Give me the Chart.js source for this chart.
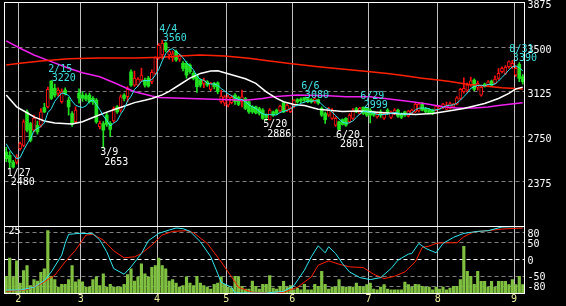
<!DOCTYPE html>
<html><head><meta charset="utf-8">
<script src="https://cdn.jsdelivr.net/npm/chart.js@4"></script>
<style>
html,body{margin:0;padding:0;background:#000;width:566px;height:306px;overflow:hidden}
#c1{position:absolute;left:0;top:0}
#c2{position:absolute;left:0;top:220px}
</style></head><body>
<canvas id="c1" width="566" height="228" style="width:566px;height:228px"></canvas>
<canvas id="c2" width="566" height="86" style="width:566px;height:86px"></canvas>
<script>
const dates = ['1/26','1/27','1/28','1/31',
'2/1','2/2','2/3','2/4','2/7','2/8','2/9','2/10','2/14','2/15','2/16','2/17','2/18','2/21','2/22','2/24','2/25','2/28',
'3/1','3/2','3/3','3/4','3/7','3/8','3/9','3/10','3/11','3/14','3/15','3/16','3/17','3/18','3/22','3/23','3/24','3/25','3/28','3/29','3/30','3/31',
'4/1','4/4','4/5','4/6','4/7','4/8','4/11','4/12','4/13','4/14','4/15','4/18','4/19','4/20','4/21','4/22','4/25','4/26','4/27','4/28',
'5/2','5/6','5/9','5/10','5/11','5/12','5/13','5/16','5/17','5/18','5/19','5/20','5/23','5/24','5/25','5/26','5/27','5/30','5/31',
'6/1','6/2','6/3','6/6','6/7','6/8','6/9','6/10','6/13','6/14','6/15','6/16','6/17','6/20','6/21','6/22','6/23','6/24','6/27','6/28','6/29','6/30',
'7/1','7/4','7/5','7/6','7/7','7/8','7/11','7/12','7/13','7/14','7/15','7/19','7/20','7/21','7/22','7/25','7/26','7/27','7/28','7/29',
'8/1','8/2','8/3','8/4','8/5','8/8','8/9','8/10','8/12','8/15','8/16','8/17','8/18','8/19','8/22','8/23','8/24','8/25','8/26','8/29','8/30','8/31',
'9/1','9/2','9/5'];

const opens = [2620,2593,2536,2536,2649,2677,2957,2860,2803,2845,2845,2994,3000,3215,3154,3112,3042,3140,3056,2944,2873,3115,3098,3095,3098,3072,3056,2831,2860,2930,2862,2881,2999,2972,3098,3084,3294,3182,3182,3224,3224,3241,3210,3280,3410,3435,3535,3435,3410,3463,3400,3365,3365,3350,3281,3266,3224,3196,3210,3146,3196,3202,3042,3030,3014,3035,3098,3080,3042,3070,3042,3000,3000,2986,2972,2930,2890,2957,2972,2966,3033,2972,2960,3014,3060,3065,3078,3070,3060,3040,3060,2988,2944,2930,2902,2845,2873,2893,2904,2873,2902,2986,2944,2995,2986,2972,2957,2915,2957,2904,2972,2910,2944,2972,2944,2957,2921,2944,2957,2966,3022,2986,2977,2972,2972,2986,2994,2978,2986,2997,3022,3070,3126,3140,3182,3224,3163,3098,3190,3182,3215,3197,3239,3294,3281,3337,3337,3267,3357,3252];
const highs = [2660,2625,2550,2600,2705,2890,2975,2870,2930,2880,2985,3030,3165,3220,3190,3160,3150,3160,3080,2960,3000,3150,3125,3110,3115,3085,3070,2880,2875,2945,2875,3000,3010,3100,3110,3170,3310,3300,3245,3325,3240,3255,3310,3420,3530,3560,3545,3480,3470,3475,3440,3380,3380,3360,3295,3275,3235,3240,3220,3205,3205,3210,3140,3095,3100,3095,3110,3090,3140,3080,3050,3010,3005,2995,2985,2940,2985,2965,2980,3015,3040,3025,3000,3060,3070,3075,3080,3075,3070,3075,3065,3000,2955,2995,2985,2915,2880,2900,2910,2940,2985,2995,2995,2999,2990,2985,2965,2955,2975,2955,2985,2965,2985,2980,2950,2965,2970,2980,3030,3030,3035,2995,2985,2980,3010,3010,3030,3040,3040,3030,3085,3155,3244,3200,3250,3235,3215,3175,3200,3220,3225,3260,3320,3335,3345,3385,3390,3340,3370,3270];
const lows = [2540,2480,2485,2520,2635,2665,2790,2705,2790,2770,2830,2950,2990,3060,3080,3090,3030,3100,2930,2835,2860,3030,3045,3050,3030,3020,2860,2815,2653,2835,2750,2870,2945,2955,3050,3040,3170,3170,3170,3210,3165,3165,3195,3270,3400,3400,3460,3400,3380,3380,3380,3300,3240,3280,3225,3120,3165,3160,3170,3135,3150,3110,3030,3010,3000,3025,3020,3010,3000,2975,2945,2945,2940,2930,2895,2886,2890,2920,2935,2955,2950,2960,2950,2990,3030,3035,3040,3035,3030,3030,3020,2920,2860,2920,2895,2835,2801,2845,2835,2865,2895,2950,2935,2935,2920,2865,2920,2905,2910,2895,2935,2900,2935,2910,2900,2920,2915,2935,2950,2955,2965,2950,2940,2935,2965,2980,2985,2975,2980,2990,3015,3060,3115,3120,3170,3135,3140,3090,3165,3175,3175,3190,3230,3285,3270,3325,3320,3255,3210,3190];
const closes = [2565,2536,2494,2578,2691,2873,2803,2719,2905,2789,2957,2957,3146,3070,3098,3140,3126,3112,3000,2855,2972,3073,3072,3065,3042,3040,2873,2860,2803,2853,2811,2986,2957,3084,3070,3146,3182,3241,3233,3267,3182,3174,3290,3410,3515,3535,3477,3463,3445,3393,3430,3323,3266,3295,3239,3168,3182,3224,3182,3197,3168,3126,3090,3084,3084,3080,3042,3020,3084,2986,2957,2957,2949,2944,2902,2910,2972,2930,2944,3005,2957,3014,2988,3056,3040,3050,3055,3045,3040,3070,3030,2930,2893,2986,2972,2904,2810,2853,2845,2930,2972,2957,2990,2944,2930,2930,2930,2944,2930,2946,2944,2957,2972,2921,2910,2930,2964,2972,3022,3022,2972,2957,2949,2944,3005,3005,3022,3005,3028,3022,3075,3146,3154,3182,3218,3146,3196,3163,3173,3210,3182,3233,3281,3323,3331,3379,3365,3323,3239,3210];
const volumes = [6.7,14.1,6.5,13,4,9,11,3,5.4,4.8,8.3,9.7,25.2,6.7,5.4,2.4,3.5,3.5,5.4,11,4.5,5.4,4.5,2.4,2.4,5.4,6.5,3,7.7,2.4,3.5,2.4,2.4,2.4,3.5,7.4,9.7,4.8,6.5,11.8,7.7,6.5,10.3,11,14.1,11,9.7,4.8,5.4,4,2.4,3,6.5,4,3,6.7,4,3,2.4,1.6,3.5,4,6.5,3.5,2.4,2,6.7,6.5,2.7,1.6,1.6,4.8,2.7,1.6,3.5,3.5,7,2,1.6,2.7,4.7,2.4,3,1.3,2,1.3,3.5,1.3,1.3,3.5,2.7,8.7,3.5,1.6,2.4,2.4,5.4,2.4,2.4,2.4,2.4,4,2.7,2.4,3.4,4,1.6,1.3,2.4,3.4,1.6,1.3,1.3,1.3,1.3,4.4,3.4,2.4,3.5,3.4,2.7,2.4,2.4,1.3,2.4,1.6,2.4,1.3,2,2.7,2.7,5.4,18.8,8.7,6.7,3.5,8.7,4.7,4.7,2.4,4.7,2.4,4.7,4.7,4.7,3.4,5.4,3.4,6.7,3.4];

const ma5 = [2690,2640,2600,2565,2573,2634,2688,2733,2798,2818,2835,2865,2951,2984,3046,3082,3116,3109,3095,3047,3013,3002,2994,3007,3045,3058,3019,2976,2924,2886,2840,2863,2882,2938,2982,3049,3088,3145,3174,3214,3221,3219,3228,3265,3314,3385,3445,3480,3487,3463,3442,3411,3371,3341,3311,3258,3230,3222,3199,3191,3191,3179,3153,3133,3110,3093,3076,3062,3062,3042,3018,2999,2987,2959,2942,2932,2935,2932,2932,2952,2962,2970,2984,3004,3011,3030,3038,3049,3046,3052,3048,3023,2993,2982,2955,2928,2898,2872,2862,2866,2882,2911,2941,2961,2961,2953,2947,2936,2933,2936,2939,2944,2953,2948,2941,2937,2939,2949,2974,2988,2990,2989,2984,2969,2975,2980,2995,3011,3013,3016,3031,3055,3085,3116,3155,3169,3179,3181,3175,3188,3185,3192,3216,3246,3276,3309,3336,3344,3327,3303];
const ma25 = [[0,3098],[3,3000],[6,2950],[8,2915],[11,2881],[14,2864],[19,2856],[22,2875],[25,2910],[28,2945],[31,2975],[34,3005],[37,3035],[40,3055],[42,3070],[45,3100],[47,3130],[50,3185],[53,3240],[56,3280],[59,3300],[61,3302],[63,3285],[66,3260],[69,3235],[72,3197],[75,3126],[78,3070],[80,3042],[83,3020],[86,3010],[90,2980],[97,2960],[102,2965],[107,2955],[112,2944],[118,2935],[123,2944],[128,2966],[132,2986],[138,3028],[142,3070],[145,3112],[147,3150],[149,3165]];
const ma75 = [[0,3351],[4,3365],[10,3385],[18,3404],[27,3410],[37,3410],[45,3416],[50,3427],[56,3435],[63,3427],[70,3407],[76,3385],[83,3359],[90,3337],[96,3320],[105,3295],[110,3280],[115,3260],[120,3240],[124,3226],[128,3212],[133,3190],[138,3175],[143,3160],[149,3150]];
const maLong = [[0,3553],[4,3491],[8,3435],[13,3379],[18,3323],[22,3286],[27,3252],[32,3191],[37,3126],[42,3090],[44,3079],[53,3070],[69,3056],[74,3070],[77,3084],[84,3098],[93,3092],[98,3084],[105,3084],[111,3064],[117,3042],[121,3025],[126,3000],[130,2990],[135,2990],[139,2998],[142,3011],[147,3028],[149,3033]];
const oscFast = [[0,-91],[4,-91],[8,-83],[11,-63],[13,-37],[16,13],[17,48],[18,75],[21,78],[25,77],[27,58],[29,23],[31,-27],[34,-44],[36,-22],[39,18],[41,56],[44,78],[47,88],[49,94],[51,92],[53,84],[56,53],[59,8],[61,-42],[62,-68],[65,-83],[66,-100],[71,-100],[75,-100],[77,-98],[80,-95],[83,-78],[86,-32],[88,8],[90,41],[92,20],[93,38],[95,18],[97,-12],[99,-37],[102,-54],[105,-60],[108,-54],[111,-27],[113,-2],[116,16],[117,18],[119,48],[121,33],[124,20],[126,48],[129,66],[132,78],[136,84],[139,86],[143,97],[147,98],[149,98]];
const oscSlow = [[0,-95],[6,-90],[10,-73],[14,-47],[17,-7],[20,28],[23,73],[25,75],[28,58],[31,26],[34,5],[37,8],[39,18],[42,43],[45,73],[48,84],[52,86],[54,80],[58,48],[62,-7],[65,-52],[67,-83],[71,-98],[77,-100],[80,-98],[84,-83],[88,-52],[90,-17],[93,-4],[96,-14],[99,-22],[103,-24],[106,-44],[109,-57],[112,-50],[115,-37],[118,-7],[120,36],[122,40],[124,48],[126,50],[130,50],[132,68],[135,83],[139,86],[143,91],[149,94]];

const priceTicks = [3875,3500,3125,2750,2375];
const oscTicks = [80,50,0,-50,-80];
const volTicks = [25];
const highMarks = [13,45,86,103,146];
const lowMarks = [1,28,75,96];

// month boundaries from the dates
const monthBounds = [], monthLabels = [];
dates.forEach((d,i)=>{ if(i>0 && d.split('/')[0]!==dates[i-1].split('/')[0]){ monthBounds.push(i-0.5); monthLabels.push(d.split('/')[0]); } });

const RED='#ff1010', GREEN='#20e020', CYAN='#30e8f0';
Chart.defaults.font.family = "'DejaVu Sans Mono', monospace";
Chart.defaults.font.size = 10;
Chart.defaults.color = '#ffffff';

const noPad = s => { s.paddingTop = 0; s.paddingBottom = 0; s.paddingLeft = 0; s.paddingRight = 0; };

const framePlugin = { id:'frame', afterDatasetsDraw(chart){
  const {ctx, chartArea:a} = chart;
  ctx.save(); ctx.strokeStyle='#ffffff'; ctx.lineWidth=1;
  const l=Math.floor(a.left)+0.5, t=Math.floor(a.top)+0.5, r=Math.floor(a.right)+0.5, b=Math.floor(a.bottom)+0.5;
  ctx.strokeRect(l,t,r-l,b-t); ctx.restore(); } };

const markPlugin = { id:'marks', afterDraw(chart){
  const {ctx} = chart; const xs = chart.scales.x, ys = chart.scales.y;
  ctx.save(); ctx.font = "10px 'DejaVu Sans Mono'"; ctx.textAlign='left'; ctx.textBaseline='middle';
  ctx.fillStyle = '#40e0e0';
  highMarks.forEach(i=>{ const px=xs.getPixelForValue(i), py=ys.getPixelForValue(highs[i]);
    ctx.fillText(dates[i], px-3, py-11); ctx.fillText(String(highs[i]), px+0.5, py-2); });
  ctx.fillStyle = '#ffffff';
  lowMarks.forEach(i=>{ const px=xs.getPixelForValue(i), py=ys.getPixelForValue(lows[i]);
    ctx.fillText(dates[i], px-3, py+4.5); ctx.fillText(String(lows[i]), px+1, py+14); });
  ctx.restore(); } };

const up = i => closes[i] >= opens[i];
const xScale = (showLabels) => ({
  type:'linear', min:-0.5, max:dates.length-0.5, offset:false,
  afterBuildTicks: s => { s.ticks = monthBounds.map(v=>({value:v})); },
  afterFit: s => { s.height = showLabels ? 13 : 0; noPad(s); },
  grid:{ color:'#c0c0c0', lineWidth:1, drawTicks:false, offset:false },
  border:{ display:false },
  ticks:{ display:showLabels, autoSkip:false, maxRotation:0, padding:0, color:'#f0f0a0',
    callback:(v)=>{ const k=monthBounds.indexOf(v); return k>=0?monthLabels[k]:''; } }
});

new Chart(document.getElementById('c1'), {
  type:'bar',
  data:{ datasets:[
    { type:'line', data:ma5.map((v,i)=>[i,v]), borderColor:CYAN, borderWidth:1, pointRadius:0, order:0 },
    { type:'line', data:ma25, borderColor:'#ffffff', borderWidth:1.5, pointRadius:0, order:0 },
    { type:'line', data:ma75, borderColor:'#ff2000', borderWidth:1.5, pointRadius:0, order:0 },
    { type:'line', data:maLong, borderColor:'#f020f0', borderWidth:1.5, pointRadius:0, order:0 },
    { type:'bar', data:dates.map((d,i)=>({x:i, y:[opens[i], closes[i]]})), grouped:false, barThickness:3, borderSkipped:false,
      backgroundColor:c=>up(c.dataIndex)?'#000000':GREEN, borderColor:c=>up(c.dataIndex)?RED:GREEN,
      borderWidth:c=>up(c.dataIndex)?1:0, order:1 },
    { type:'bar', data:dates.map((d,i)=>({x:i, y:[lows[i], highs[i]]})), grouped:false, barThickness:1,
      backgroundColor:c=>up(c.dataIndex)?RED:GREEN, order:2 }
  ]},
  options:{
    responsive:false, animation:false, devicePixelRatio:1, events:[],
    layout:{ padding:{ left:4.5, top:2.5, right:0, bottom:2 } },
    plugins:{ legend:{display:false}, tooltip:{enabled:false} },
    scales:{
      x: xScale(false),
      y:{ type:'linear', position:'right', min:2000, max:3875,
        afterBuildTicks: s => { s.ticks = priceTicks.map(v=>({value:v})); },
        afterFit: s => { s.width = 41.5; noPad(s); },
        grid:{ color:c=> (c.tick && c.tick.value===3875) ? 'rgba(0,0,0,0)' : '#808080', drawTicks:false },
        border:{ display:false, dash:[4,3] },
        ticks:{ padding:3, labelOffset:3, color:'#ffffff', callback:v=>String(v) } }
    }
  },
  plugins:[framePlugin, markPlugin]
});

new Chart(document.getElementById('c2'), {
  type:'bar',
  data:{ datasets:[
    { type:'line', data:oscFast, yAxisID:'yOsc', borderColor:CYAN, borderWidth:1, pointRadius:0, order:0 },
    { type:'line', data:oscSlow, yAxisID:'yOsc', borderColor:'#ff2000', borderWidth:1, pointRadius:0, order:0 },
    { type:'bar', data:volumes.map((v,i)=>({x:i, y:v})), yAxisID:'yVol', grouped:false, barThickness:2.5,
      backgroundColor:'#80c040', order:2 }
  ]},
  options:{
    responsive:false, animation:false, devicePixelRatio:1, events:[],
    layout:{ padding:{ left:4.5, top:6, right:0, bottom:0 } },
    plugins:{ legend:{display:false}, tooltip:{enabled:false} },
    scales:{
      x: xScale(true),
      yOsc:{ type:'linear', position:'right', min:-100, max:100,
        afterBuildTicks: s => { s.ticks = oscTicks.map(v=>({value:v})); },
        afterFit: s => { s.width = 41.5; noPad(s); },
        grid:{ color:c=> (c.tick && c.tick.value===0) ? '#ffffff' : '#808080', drawTicks:false },
        border:{ display:false, dash:[4,3] },
        ticks:{ padding:3, labelOffset:1.5, color:'#ffffff', callback:v=>String(v) } },
      yVol:{ type:'linear', position:'left', min:0, max:27,
        afterBuildTicks: s => { s.ticks = volTicks.map(v=>({value:v})); },
        afterFit: s => { s.width = 0; noPad(s); },
        grid:{ display:false, drawTicks:false },
        border:{ display:false },
        ticks:{ mirror:true, padding:4, color:'#ffffff', callback:v=>String(v) } }
    }
  },
  plugins:[framePlugin]
});
</script>
</body></html>
